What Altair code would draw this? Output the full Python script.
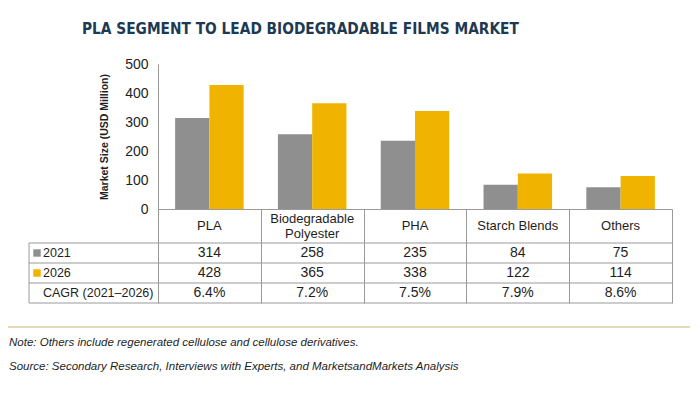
import altair as alt
import pandas as pd

categories = ["PLA", "Biodegradable\nPolyester", "PHA", "Starch Blends", "Others"]
years = ["2021", "2026"]
v2021 = [314, 258, 235, 84, 75]
v2026 = [428, 365, 338, 122, 114]
cagr = ["6.4%", "7.2%", "7.5%", "7.9%", "8.6%"]
rows = ["2021", "2026", "CAGR"]
row_labels = ["2021", "2026", "CAGR (2021\u20132026)"]
y_ticks = [0, 100, 200, 300, 400, 500]

title_text = "PLA SEGMENT TO LEAD BIODEGRADABLE FILMS MARKET"
note_text = "Note: Others include regenerated cellulose and cellulose derivatives."
source_text = "Source: Secondary Research, Interviews with Experts, and MarketsandMarkets Analysis"

GRAY = "#8f8f8f"
GOLD = "#efb300"
BORDER = "#9a9a9a"
TEXT = "#1e1e1e"
FONT = "Liberation Sans"

W, H = 514, 145
ROW_TOP, ROW_BOTTOM = 179, 239
LABEL_LEFT = -129
HEADER_Y = 162

bars_df = pd.DataFrame(
    [{"category": c, "year": "2021", "value": v} for c, v in zip(categories, v2021)]
    + [{"category": c, "year": "2026", "value": v} for c, v in zip(categories, v2026)]
)
table_df = pd.DataFrame(
    [{"category": c, "row": "2021", "text": str(v)} for c, v in zip(categories, v2021)]
    + [{"category": c, "row": "2026", "text": str(v)} for c, v in zip(categories, v2026)]
    + [{"category": c, "row": "CAGR", "text": t} for c, t in zip(categories, cagr)]
)
header_df = pd.DataFrame({"category": categories})
rowlab_df = pd.DataFrame({"row": rows, "label": row_labels})
square_df = pd.DataFrame({"row": years, "year": years})
rule_df = pd.DataFrame({"row": rows})

x_enc = alt.X(
    "category:N",
    sort=categories,
    scale=alt.Scale(paddingInner=0, paddingOuter=0),
    axis=alt.Axis(
        title=None,
        labels=False,
        ticks=True,
        tickBand="extent",
        tickSize=94,
        tickColor=BORDER,
        domainColor=BORDER,
        grid=False,
    ),
)

color_enc = alt.Color(
    "year:N", scale=alt.Scale(domain=years, range=[GRAY, GOLD]), legend=None
)


def row_y(band=0.5):
    return alt.Y(
        "row:N",
        bandPosition=band,
        scale=alt.Scale(domain=rows, range=[ROW_TOP, ROW_BOTTOM], paddingInner=0, paddingOuter=0),
        axis=None,
    )


bars = alt.Chart(bars_df).mark_bar().encode(
    x=x_enc,
    xOffset=alt.XOffset("year:N", sort=years, scale=alt.Scale(paddingOuter=0.5, paddingInner=0)),
    y=alt.Y(
        "value:Q",
        scale=alt.Scale(domain=[0, 500]),
        axis=alt.Axis(
            values=y_ticks,
            title="Market Size (USD Million)",
            titleFont=FONT,
            titleFontSize=10.5,
            titleFontWeight="bold",
            titleColor=TEXT,
            titlePadding=15,
            labelFont=FONT,
            labelFontSize=14,
            labelColor=TEXT,
            labelPadding=10,
            ticks=False,
            grid=False,
            domainColor=BORDER,
        ),
    ),
    color=color_enc,
)

header_single = (
    alt.Chart(header_df)
    .transform_filter("indexof(datum.category, '\\n') < 0")
    .mark_text(font=FONT, fontSize=13, color=TEXT, baseline="middle")
    .encode(x=alt.X("category:N", sort=categories), y=alt.value(HEADER_Y), text="category:N")
)
header_multi = (
    alt.Chart(header_df)
    .transform_filter("indexof(datum.category, '\\n') >= 0")
    .mark_text(font=FONT, fontSize=13, color=TEXT, baseline="middle", lineBreak="\n", lineHeight=15, dy=-7.5)
    .encode(x=alt.X("category:N", sort=categories), y=alt.value(HEADER_Y), text="category:N")
)

table_text = alt.Chart(table_df).mark_text(font=FONT, fontSize=14, color=TEXT).encode(
    x=alt.X("category:N", sort=categories),
    y=row_y(),
    text="text:N",
)

row_text = alt.Chart(rowlab_df).mark_text(font=FONT, fontSize=12.5, color=TEXT, align="left").encode(
    x=alt.value(LABEL_LEFT + 14),
    y=row_y(),
    text="label:N",
)

squares = alt.Chart(square_df).mark_square(size=55, opacity=1).encode(
    x=alt.value(LABEL_LEFT + 8),
    y=row_y(),
    color=color_enc,
)

hrules = alt.Chart(rule_df).mark_rule(color=BORDER, strokeWidth=1).encode(
    x=alt.value(LABEL_LEFT), x2=alt.value(W), y=row_y(0)
)
bottom_rule = alt.Chart(pd.DataFrame({"row": ["CAGR"]})).mark_rule(color=BORDER, strokeWidth=1).encode(
    x=alt.value(LABEL_LEFT), x2=alt.value(W), y=row_y(1)
)
vrule = alt.Chart(pd.DataFrame({"row": ["2021"]})).mark_rule(color=BORDER, strokeWidth=1).encode(
    x=alt.value(LABEL_LEFT), y=alt.value(ROW_TOP), y2=alt.value(ROW_BOTTOM)
)

gold_line = alt.Chart(pd.DataFrame({"k": [0]})).mark_rule(color="#c9b36c", strokeWidth=1.2).encode(
    x=alt.value(-150), x2=alt.value(532), y=alt.value(263)
)
note = alt.Chart(pd.DataFrame({"t": [note_text]})).mark_text(
    font=FONT, fontSize=11.5, fontStyle="italic", color=TEXT, align="left", baseline="middle"
).encode(text="t:N", x=alt.value(-149), y=alt.value(279))
source = alt.Chart(pd.DataFrame({"t": [source_text]})).mark_text(
    font=FONT, fontSize=11.5, fontStyle="italic", color=TEXT, align="left", baseline="middle"
).encode(text="t:N", x=alt.value(-149), y=alt.value(303))

chart = (
    alt.layer(
        bars, hrules, bottom_rule, vrule, header_single, header_multi,
        table_text, row_text, squares, gold_line, note, source,
    )
    .resolve_scale(y="independent")
    .properties(
        width=W,
        height=H,
        autosize=alt.AutoSizeParams(type="none"),
        padding={"left": 150, "top": 56, "right": 20, "bottom": 170},
        title=alt.TitleParams(
            title_text,
            anchor="start",
            frame="group",
            dx=-76,
            offset=20,
            font="DejaVu Sans Condensed, DejaVu Sans",
            fontSize=15.3,
            fontWeight="bold",
            color="#1d3a52",
        ),
    )
    .configure_view(stroke=None)
)

chart.save("out.html", embed_options={"renderer": "svg", "actions": False})
